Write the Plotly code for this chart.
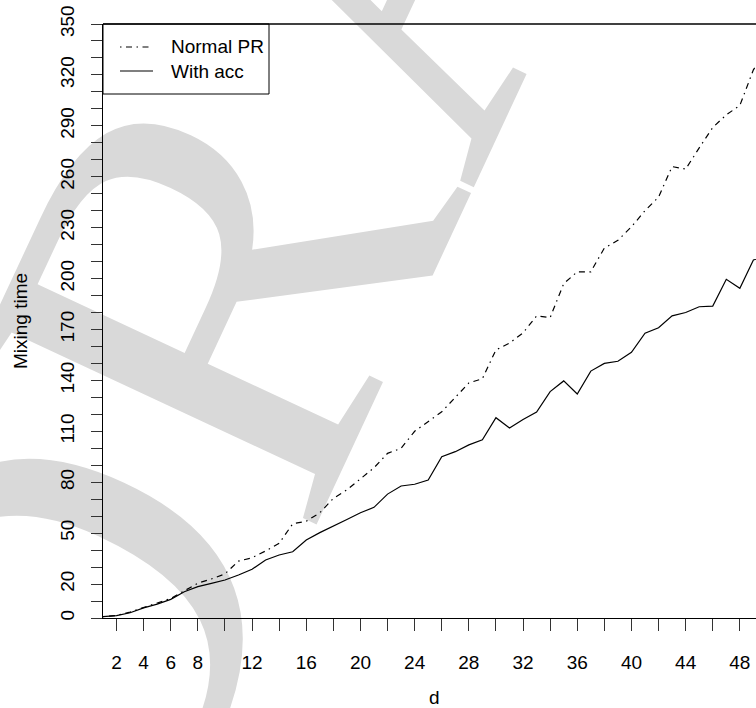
import base64
import math
import plotly.graph_objects as go

# ---- data ----
d = list(range(1, 51))
normal_pr = [0.8, 1.5, 3.5, 6.2, 8.5, 11.5, 16, 20.5, 23, 26,
             33.5, 35.5, 39.5, 44, 55.5, 57, 62, 70.5, 75.5, 82,
             88.5, 97, 100, 110, 116, 121.5, 130, 138.5, 141, 158,
             162, 168, 178, 177, 197, 204, 204, 218, 222.5, 230.5,
             240, 248, 266, 264.5, 277, 289, 296.5, 302, 323, 335]
with_acc = [0.8, 1.4, 3.1, 6, 8.2, 11, 15.5, 18.5, 20.4, 22.4,
            25.3, 28.7, 34.2, 37.1, 39, 46, 50.3, 54, 58, 62,
            65.2, 73, 77.8, 78.8, 81.3, 95, 98, 102, 105, 118,
            112, 117, 121.4, 133.4, 139.7, 132, 145.5, 150, 151.3, 156.6,
            167.8, 171, 178, 180, 183.4, 183.8, 199.6, 194.3, 211, 213]

x_tickvals = list(range(2, 49, 2))
x_ticktext = ["2", "4", "6", "8", "", "12", "", "16", "", "20", "", "24", "",
              "28", "", "32", "", "36", "", "40", "", "44", "", "48"]
y_tickvals = list(range(0, 351, 10))
y_labels = {0, 20, 50, 80, 110, 140, 170, 200, 230, 260, 290, 320, 350}
y_ticktext = [str(v) if v in y_labels else "" for v in y_tickvals]

watermark_text = "DRAFT"

W, H = 756, 708
ML, MR, MT, MB = 103, 0, 24, 90
FONT = "Liberation Sans, Arial, Helvetica, sans-serif"
GRAY = "#d9d9d9"


def px(x, y):
    """pixel -> paper coordinates"""
    return (x - ML) / (W - ML - MR), 1 - (y - MT) / (H - MT - MB)


# ---- watermark: big rotated serif text rendered as a background svg ----
EM = 580.0
ANG = 65.0
rx, ry = math.cos(math.radians(ANG)), -math.sin(math.radians(ANG))
tipx, tipy = 312.0, 534.0            # lower-left serif tip of the "R"
start = -0.739 * EM                  # text origin relative to that tip
ox, oy = tipx + start * rx, tipy + start * ry
svg = (f'<svg xmlns="http://www.w3.org/2000/svg" width="{W}" height="{H}" viewBox="0 0 {W} {H}">'
       f'<text x="0" y="0" transform="translate({ox:.1f},{oy:.1f}) rotate({-ANG})" '
       f'font-family="Liberation Serif, Times New Roman, serif" font-size="{EM}" fill="{GRAY}">'
       f'{watermark_text}</text></svg>')
src = "data:image/svg+xml;base64," + base64.b64encode(svg.encode()).decode()
p00 = px(0, 0)
images = [dict(source=src, xref="paper", yref="paper", x=p00[0], y=p00[1],
               sizex=W / (W - ML - MR), sizey=H / (H - MT - MB),
               xanchor="left", yanchor="top", sizing="stretch", layer="below")]

shapes = []
# legend box & glyphs
lx0, ly0, lx1, ly1 = 103, 24, 269, 94
x0p, y0p = px(lx0, ly0)
x1p, y1p = px(lx1, ly1)
shapes.append(dict(type="rect", xref="paper", yref="paper", x0=x0p, y0=y1p, x1=x1p, y1=y0p,
                   fillcolor="white", line=dict(color="black", width=1), layer="above"))
for yy, dash in [(47, "1.5px,4.5px,6px,4.5px"), (71, "solid")]:
    a = px(120, yy)
    b = px(153, yy)
    shapes.append(dict(type="line", xref="paper", yref="paper", x0=a[0], y0=a[1], x1=b[0], y1=b[1],
                       line=dict(color="black", width=1.2, dash=dash), layer="above"))

annotations = []
for yy, txt in [(47, "Normal PR"), (71, "With acc")]:
    a = px(169, yy)
    annotations.append(dict(xref="paper", yref="paper", x=a[0], y=a[1], text=txt, showarrow=False,
                            xanchor="left", yanchor="middle", font=dict(size=19, color="black", family=FONT)))
# axis titles
a = px(434, 697)
annotations.append(dict(xref="paper", yref="paper", x=a[0], y=a[1], text="d", showarrow=False,
                        xanchor="center", yanchor="middle", font=dict(size=19, color="black", family=FONT)))
a = px(20, 321)
annotations.append(dict(xref="paper", yref="paper", x=a[0], y=a[1], text="Mixing time", showarrow=False,
                        textangle=-90, xanchor="center", yanchor="middle",
                        font=dict(size=19, color="black", family=FONT)))

# top border line
shapes.append(dict(type="line", xref="paper", yref="paper", x0=0, x1=1, y0=1, y1=1,
                   line=dict(color="black", width=1.3), layer="above"))

fig = go.Figure()
fig.add_trace(go.Scatter(x=d, y=normal_pr, mode="lines", name="Normal PR",
                         line=dict(color="black", width=1.2, dash="1.5px,4.5px,6px,4.5px")))
fig.add_trace(go.Scatter(x=d, y=with_acc, mode="lines", name="With acc",
                         line=dict(color="black", width=1.2)))

x_end = 1 + (W - ML - MR) / 13.55

fig.update_layout(
    width=W, height=H,
    margin=dict(l=ML, r=MR, t=MT, b=MB, autoexpand=False),
    paper_bgcolor="white", plot_bgcolor="rgba(0,0,0,0)",
    showlegend=False,
    font=dict(family=FONT, size=19, color="black"),
    shapes=shapes, annotations=annotations, images=images,
    xaxis=dict(range=[1, x_end], tickvals=x_tickvals, ticktext=x_ticktext,
               ticks="outside", ticklen=12, tickwidth=1, tickcolor="#333",
               showline=True, linecolor="black", linewidth=1.3, mirror=False,
               showgrid=False, zeroline=False, ticklabelstandoff=15, automargin=False),
    yaxis=dict(range=[0, 350], tickvals=y_tickvals, ticktext=y_ticktext,
               ticks="outside", ticklen=11, tickwidth=1, tickcolor="#333", tickangle=-90,
               showline=True, linecolor="black", linewidth=1.3,
               showgrid=False, zeroline=False, ticklabelstandoff=9, automargin=False),
)

fig.write_html("out.html", config={"displayModeBar": False},
               post_script="document.body.style.margin='0';document.body.style.overflow='hidden';")
